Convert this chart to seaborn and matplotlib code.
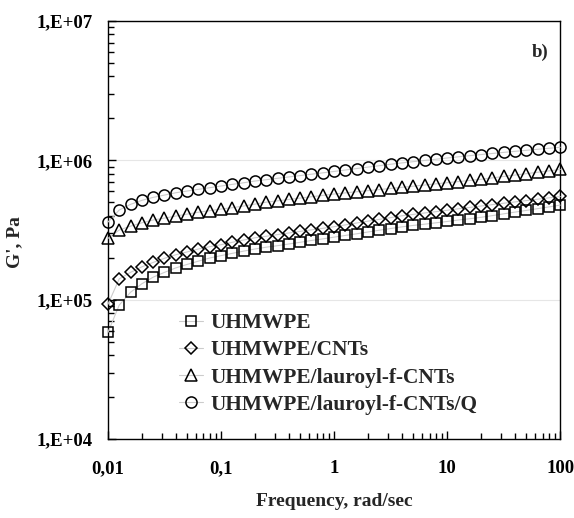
import numpy as np
import pandas as pd
import matplotlib
matplotlib.use("Agg")
import matplotlib.pyplot as plt
import seaborn as sns

# frecuencias (rad/s), 10 puntos por década
freq = [0.01, 0.01259, 0.01585, 0.01995, 0.02512, 0.03162, 0.03981, 0.05012, 0.0631, 0.07943,
        0.1, 0.1259, 0.1585, 0.1995, 0.2512, 0.3162, 0.3981, 0.5012, 0.631, 0.7943,
        1.0, 1.259, 1.585, 1.995, 2.512, 3.162, 3.981, 5.012, 6.31, 7.943,
        10.0, 12.59, 15.85, 19.95, 25.12, 31.62, 39.81, 50.12, 63.1, 79.43, 100.0]

g_uhmwpe = [5.82e4, 9.14e4, 1.13e5, 1.30e5, 1.45e5, 1.57e5, 1.69e5, 1.79e5, 1.89e5, 1.99e5,
            2.07e5, 2.15e5, 2.23e5, 2.31e5, 2.38e5, 2.44e5, 2.51e5, 2.58e5, 2.66e5, 2.73e5,
            2.81e5, 2.89e5, 2.97e5, 3.06e5, 3.15e5, 3.24e5, 3.33e5, 3.41e5, 3.48e5, 3.56e5,
            3.64e5, 3.73e5, 3.81e5, 3.90e5, 4.01e5, 4.13e5, 4.25e5, 4.37e5, 4.50e5, 4.63e5, 4.77e5]

g_cnts = [9.25e4, 1.41e5, 1.57e5, 1.72e5, 1.85e5, 1.98e5, 2.10e5, 2.20e5, 2.31e5, 2.40e5,
          2.48e5, 2.58e5, 2.68e5, 2.78e5, 2.85e5, 2.93e5, 3.01e5, 3.09e5, 3.17e5, 3.25e5,
          3.34e5, 3.44e5, 3.55e5, 3.66e5, 3.77e5, 3.88e5, 4.00e5, 4.09e5, 4.19e5, 4.28e5,
          4.38e5, 4.49e5, 4.59e5, 4.70e5, 4.81e5, 4.92e5, 5.03e5, 5.14e5, 5.26e5, 5.38e5, 5.50e5]

g_lauroyl = [2.75e5, 3.16e5, 3.37e5, 3.56e5, 3.73e5, 3.85e5, 3.98e5, 4.11e5, 4.24e5, 4.35e5,
             4.47e5, 4.57e5, 4.70e5, 4.85e5, 5.01e5, 5.12e5, 5.24e5, 5.36e5, 5.48e5, 5.60e5,
             5.73e5, 5.84e5, 5.95e5, 6.06e5, 6.17e5, 6.28e5, 6.40e5, 6.52e5, 6.65e5, 6.78e5,
             6.91e5, 7.04e5, 7.17e5, 7.31e5, 7.48e5, 7.66e5, 7.84e5, 8.02e5, 8.21e5, 8.40e5, 8.60e5]

g_lauroyl_q = [3.60e5, 4.40e5, 4.83e5, 5.16e5, 5.42e5, 5.63e5, 5.85e5, 6.02e5, 6.19e5, 6.36e5,
               6.54e5, 6.72e5, 6.90e5, 7.10e5, 7.26e5, 7.43e5, 7.60e5, 7.77e5, 7.95e5, 8.13e5,
               8.32e5, 8.52e5, 8.73e5, 8.94e5, 9.15e5, 9.37e5, 9.58e5, 9.78e5, 9.98e5, 1.018e6,
               1.039e6, 1.06e6, 1.08e6, 1.10e6, 1.12e6, 1.14e6, 1.16e6, 1.18e6, 1.20e6, 1.22e6, 1.24e6]

nombres = ["UHMWPE", "UHMWPE/CNTs", "UHMWPE/lauroyl-f-CNTs", "UHMWPE/lauroyl-f-CNTs/Q"]
series = [g_uhmwpe, g_cnts, g_lauroyl, g_lauroyl_q]
marcadores = ["s", "D", "^", "o"]
tamanos = [7.5, 6, 8, 8]

sns.set_style("ticks")
plt.rcParams["font.family"] = ["Liberation Serif", "DejaVu Serif"]
plt.rcParams["font.weight"] = "bold"

fig = plt.figure(figsize=(5.74, 5.18), dpi=100)
ax = fig.add_axes([0.188, 0.1525, 0.788, 0.807])
ax.set_xscale("log")
ax.set_yscale("log")

for nombre, vals, m, ms in zip(nombres, series, marcadores, tamanos):
    df = pd.DataFrame({"freq": freq, "G": vals})
    sns.lineplot(data=df, x="freq", y="G", ax=ax, color="#cccccc", lw=0.8,
                 marker=m, ms=ms, mfc="none", mec="black", mew=1.1,
                 errorbar=None, label=nombre, clip_on=False, zorder=3)

ax.set_xlim(0.01, 100)
ax.set_ylim(1e4, 1e7)
ax.set_xticks([0.01, 0.1, 1, 10, 100])
ax.set_xticklabels(["0,01", "0,1", "1", "10", "100"])
ax.set_yticks([1e4, 1e5, 1e6, 1e7])
ax.set_yticklabels(["1,E+04", "1,E+05", "1,E+06", "1,E+07"])
ax.yaxis.grid(True, which="major", color="#e6e6e6", lw=0.8)
ax.tick_params(axis="both", which="both", direction="in", top=False, right=False,
               labelsize=13.5, width=1, colors="black")
ax.tick_params(axis="both", which="major", length=6)
ax.tick_params(axis="both", which="minor", length=4)
ax.tick_params(axis="x", which="major", pad=15)
ax.tick_params(axis="y", which="major", pad=11)
for s in ax.spines.values():
    s.set_color("black")
    s.set_linewidth(1.0)

ax.set_xlabel("Frequency, rad/sec", fontsize=14, fontweight="bold")
ax.set_ylabel("G', Pa", fontsize=14, fontweight="bold")
ax.xaxis.set_label_coords(0.5, -0.13)
ax.yaxis.set_label_coords(-0.188, 0.47)
ax.text(0.975, 0.925, "b)", transform=ax.transAxes, ha="right", va="center",
        fontsize=13.5, fontweight="bold")

ax.legend(handles=ax.get_lines(), labels=nombres, loc="lower left",
          bbox_to_anchor=(0.139, 0.038), borderaxespad=0, frameon=False,
          handlelength=1.1, labelspacing=0.33, handletextpad=0.35,
          prop={"weight": "bold", "size": 15.4})

fig.savefig("out.png", dpi=100)
